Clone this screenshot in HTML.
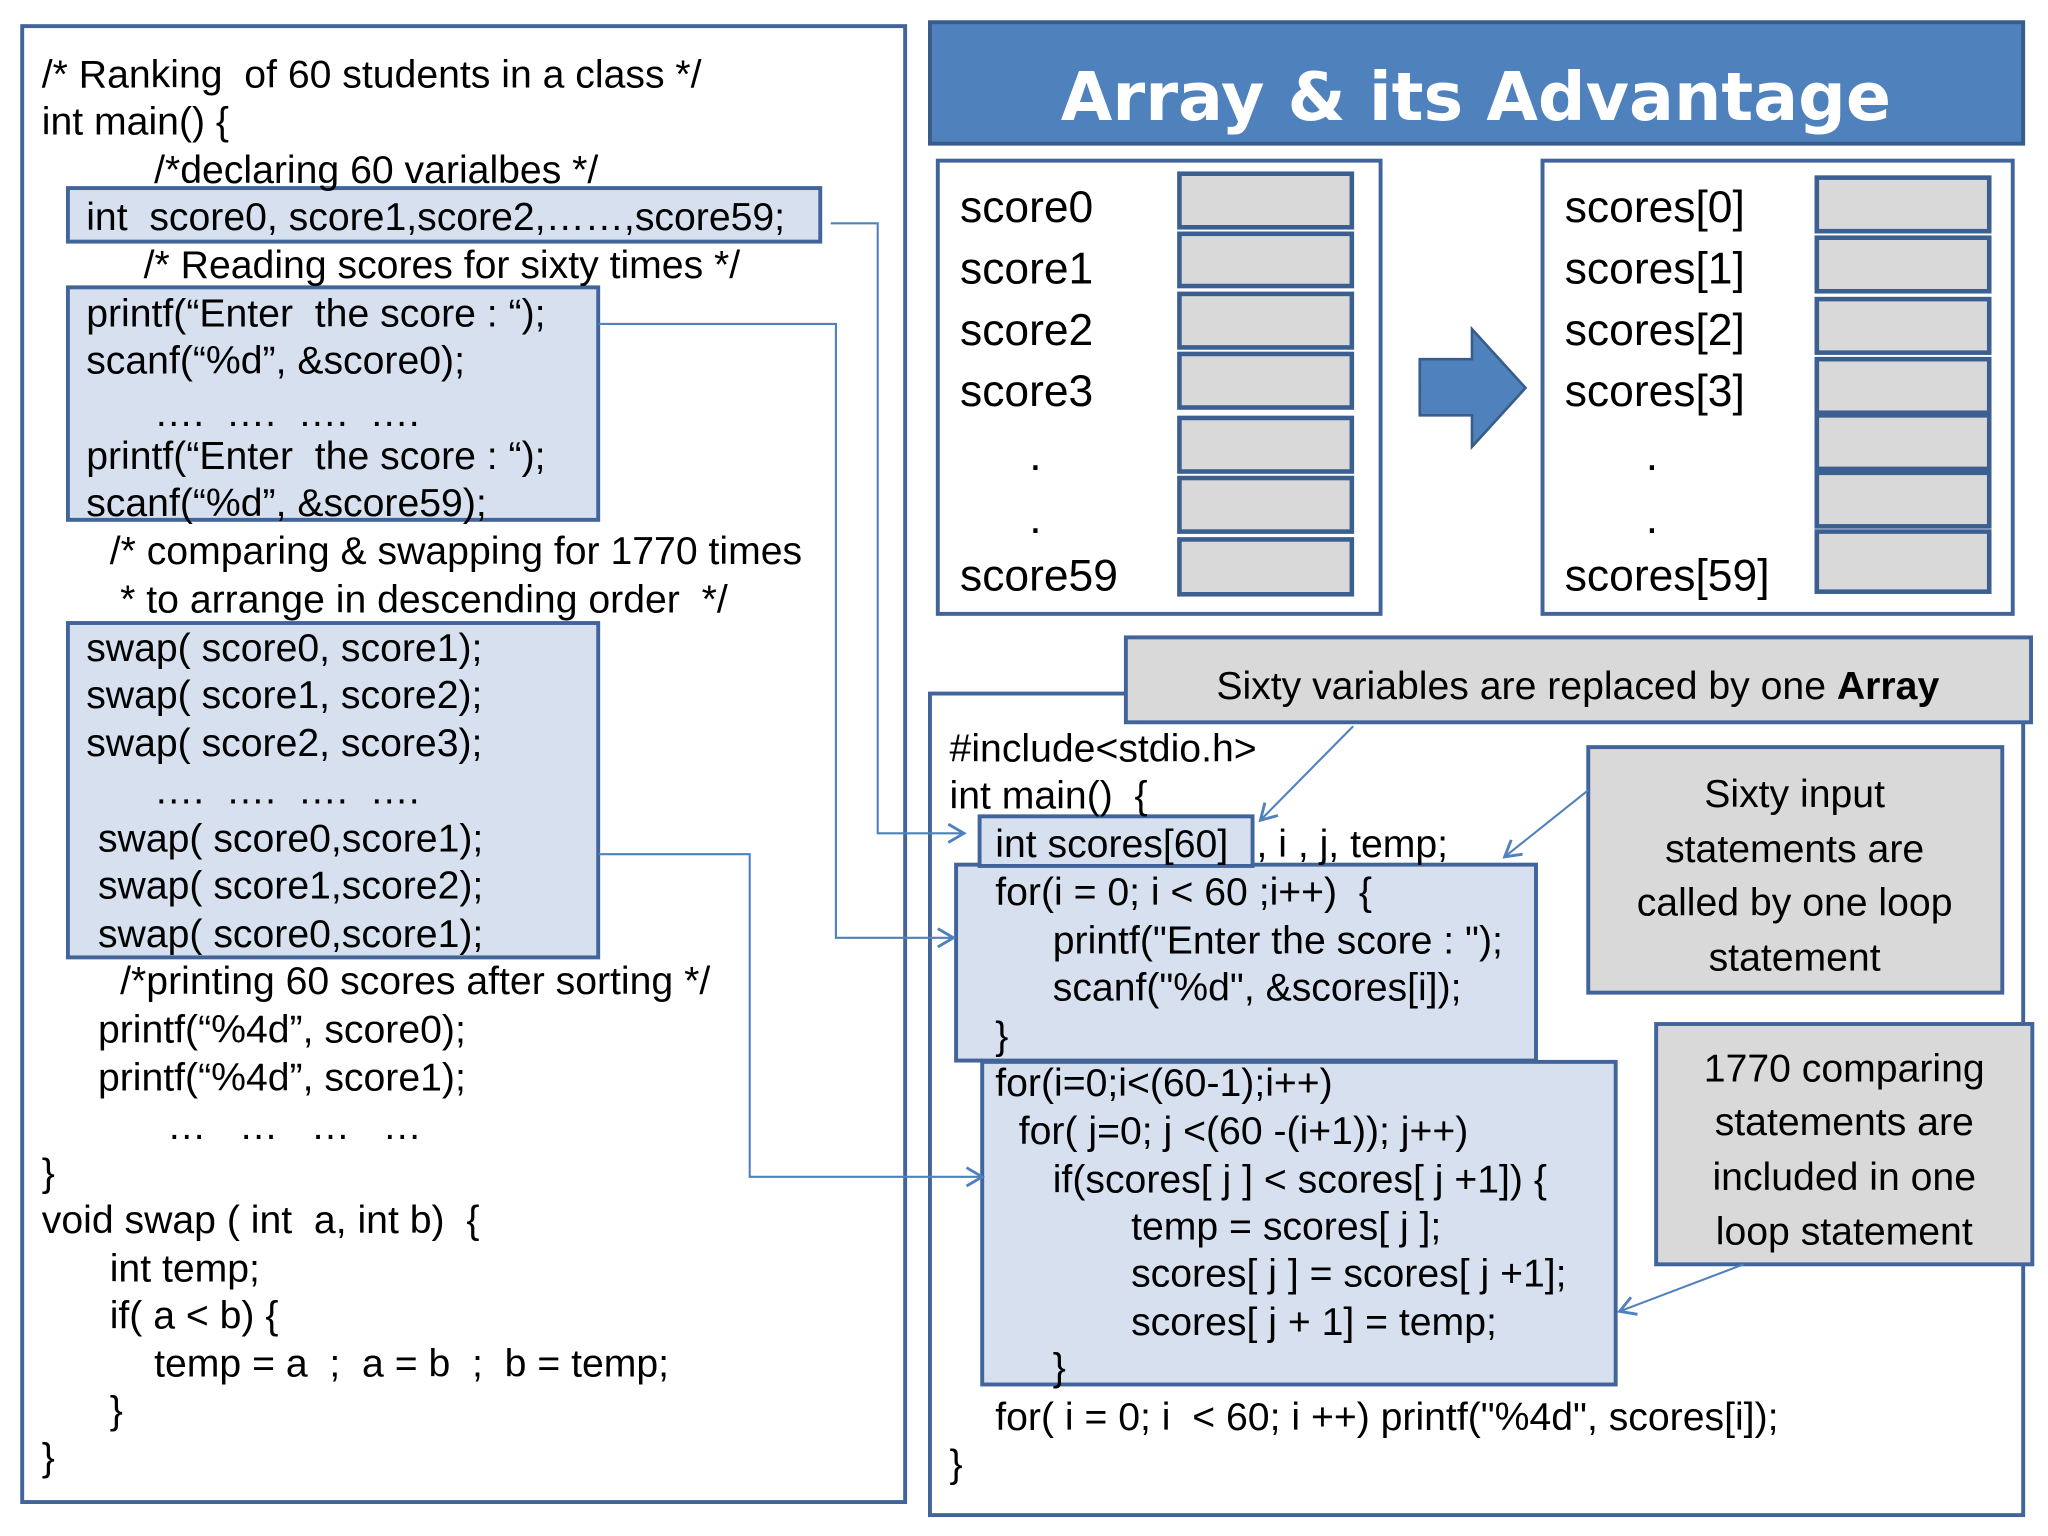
<!DOCTYPE html>
<html><head><meta charset="utf-8"><style>
html,body{margin:0;padding:0;background:#fff;width:2048px;height:1536px;overflow:hidden}
svg{display:block}
text{font-family:"Liberation Sans",Arial,sans-serif;fill:#000;white-space:pre}
.c{font-size:30px}
.k{font-family:"DejaVu Sans","Liberation Sans",sans-serif;font-size:34px}
.g{font-family:"DejaVu Sans","Liberation Sans",sans-serif;font-size:30px}
</style></head><body>
<svg width="2048" height="1536" viewBox="0 0 1568 1176" xmlns="http://www.w3.org/2000/svg" xml:space="preserve">
<defs>
<marker id="ah" markerWidth="16" markerHeight="16" refX="13" refY="8" orient="auto" markerUnits="userSpaceOnUse">
<path d="M1,1 L13,8 L1,15" fill="none" stroke="#4f81bd" stroke-width="2.2"/>
</marker>
</defs>
<g fill="none" stroke="#41659a" stroke-width="3">
<rect x="17" y="20" width="676" height="1130" fill="#fff"/>
<rect x="52" y="144" width="576" height="41" fill="#d6e0ee"/>
<rect x="52" y="220" width="406" height="178" fill="#d6e0ee"/>
<rect x="52" y="477" width="406" height="256" fill="#d6e0ee"/>
<rect x="712" y="17" width="837" height="93" fill="#4f81bd" stroke="#385d8a"/>
<rect x="718" y="123" width="339" height="347" fill="#fff"/>
<rect x="1181" y="123" width="360" height="347" fill="#fff"/>
<rect x="712" y="531" width="837" height="629" fill="#fff"/>
<rect x="862" y="488" width="693" height="65" fill="#d9d9d9"/>
<rect x="1216" y="572" width="317" height="188" fill="#d9d9d9"/>
<rect x="1268" y="784" width="288" height="184" fill="#d9d9d9"/>
<rect x="752" y="813" width="485" height="247" fill="#d6e0ee"/>
<rect x="732" y="662" width="444" height="150" fill="#d6e0ee"/>
<rect x="750" y="625" width="209" height="38" fill="#d6e0ee"/>
</g>
<g fill="#d9d9d9" stroke="#3c5f91" stroke-width="3.5">
<rect x="903" y="133" width="132" height="41"/><rect x="903" y="179" width="132" height="40"/>
<rect x="903" y="225" width="132" height="41"/><rect x="903" y="271" width="132" height="41"/>
<rect x="903" y="320" width="132" height="41"/><rect x="903" y="366" width="132" height="41"/>
<rect x="903" y="413" width="132" height="42"/>
<rect x="1391" y="136" width="132" height="41"/><rect x="1391" y="182" width="132" height="41"/>
<rect x="1391" y="229" width="132" height="41"/><rect x="1391" y="275" width="132" height="41"/>
<rect x="1391" y="318" width="132" height="41"/><rect x="1391" y="362" width="132" height="41"/>
<rect x="1391" y="407" width="132" height="46"/>
</g>
<path d="M1087,275 H1127 V252 L1168,297 L1127,342 V318 H1087 Z" fill="#4f81bd" stroke="#385d8a" stroke-width="2"/>
<g fill="none" stroke="#4f81bd" stroke-width="1.6">
<path d="M636,171 H672 V638 H738" marker-end="url(#ah)"/>
<path d="M458,248 H640 V718 H730" marker-end="url(#ah)"/>
<path d="M458,654 H574 V901 H752" marker-end="url(#ah)"/>
<path d="M1036,556 L965,628" marker-end="url(#ah)"/>
<path d="M1216,605 L1152,656" marker-end="url(#ah)"/>
<path d="M1335,968 L1240,1004" marker-end="url(#ah)"/>
</g>
<text x="1130" y="92" text-anchor="middle" style="font-family:'DejaVu Sans','Liberation Sans',sans-serif;font-size:51px;font-weight:bold;fill:#fff">Array &amp; its Advantage</text>
<g class="c">
<text x="32" y="67">/* Ranking  of 60 students in a class */</text>
<text x="32" y="103">int main() {</text>
<text x="118" y="140">/*declaring 60 varialbes */</text>
<text x="66" y="176">int  score0, score1,score2,……,score59;</text>
<text x="110" y="213">/* Reading scores for sixty times */</text>
<text x="66" y="250">printf(“Enter  the score : “);</text>
<text x="66" y="286">scanf(“%d”, &amp;score0);</text>
<text x="118" y="326">….  ….  ….  ….</text>
<text x="66" y="359">printf(“Enter  the score : “);</text>
<text x="66" y="395">scanf(“%d”, &amp;score59);</text>
<text x="84" y="432">/* comparing &amp; swapping for 1770 times</text>
<text x="92" y="469">* to arrange in descending order  */</text>
<text x="66" y="506">swap( score0, score1);</text>
<text x="66" y="542">swap( score1, score2);</text>
<text x="66" y="579">swap( score2, score3);</text>
<text x="118" y="615">….  ….  ….  ….</text>
<text x="75" y="652">swap( score0,score1);</text>
<text x="75" y="688">swap( score1,score2);</text>
<text x="75" y="725">swap( score0,score1);</text>
<text x="92" y="761">/*printing 60 scores after sorting */</text>
<text x="75" y="798">printf(“%4d”, score0);</text>
<text x="75" y="835">printf(“%4d”, score1);</text>
<text x="128" y="872">…   …   …   …</text>
<text x="32" y="908">}</text>
<text x="32" y="944">void swap ( int  a, int b)  {</text>
<text x="84" y="981">int temp;</text>
<text x="84" y="1017">if( a &lt; b) {</text>
<text x="118" y="1054">temp = a  ;  a = b  ;  b = temp;</text>
<text x="84" y="1090">}</text>
<text x="32" y="1126">}</text>
<text x="727" y="583">#include&lt;stdio.h&gt;</text>
<text x="727" y="619">int main()  {</text>
<text x="762" y="656">int scores[60]</text>
<text x="962" y="656">, i , j, temp;</text>
<text x="762" y="693">for(i = 0; i &lt; 60 ;i++)  {</text>
<text x="806" y="730">printf("Enter the score : ");</text>
<text x="806" y="766">scanf("%d", &amp;scores[i]);</text>
<text x="762" y="803">}</text>
<text x="762" y="839">for(i=0;i&lt;(60-1);i++)</text>
<text x="780" y="876">for( j=0; j &lt;(60 -(i+1)); j++)</text>
<text x="806" y="913">if(scores[ j ] &lt; scores[ j +1]) {</text>
<text x="866" y="949">temp = scores[ j ];</text>
<text x="866" y="985">scores[ j ] = scores[ j +1];</text>
<text x="866" y="1022">scores[ j + 1] = temp;</text>
<text x="806" y="1057">}</text>
<text x="762" y="1095">for( i = 0; i  &lt; 60; i ++) printf("%4d", scores[i]);</text>
<text x="727" y="1131">}</text>
</g>
<g class="k">
<text x="735" y="170">score0</text><text x="735" y="217">score1</text>
<text x="735" y="264">score2</text><text x="735" y="311">score3</text>
<text x="788" y="360">.</text><text x="788" y="408">.</text>
<text x="735" y="452">score59</text>
<text x="1198" y="170">scores[0]</text><text x="1198" y="217">scores[1]</text>
<text x="1198" y="264">scores[2]</text><text x="1198" y="311">scores[3]</text>
<text x="1260" y="360">.</text><text x="1260" y="408">.</text>
<text x="1198" y="452">scores[59]</text>
</g>
<g class="g" text-anchor="middle">
<text x="1208" y="535">Sixty variables are replaced by one <tspan font-weight="bold">Array</tspan></text>
<text x="1374" y="618">Sixty input</text>
<text x="1374" y="660">statements are</text>
<text x="1374" y="701">called by one loop</text>
<text x="1374" y="743">statement</text>
<text x="1412" y="828">1770 comparing</text>
<text x="1412" y="869">statements are</text>
<text x="1412" y="911">included in one</text>
<text x="1412" y="953">loop statement</text>
</g>
</svg>
</body></html>
